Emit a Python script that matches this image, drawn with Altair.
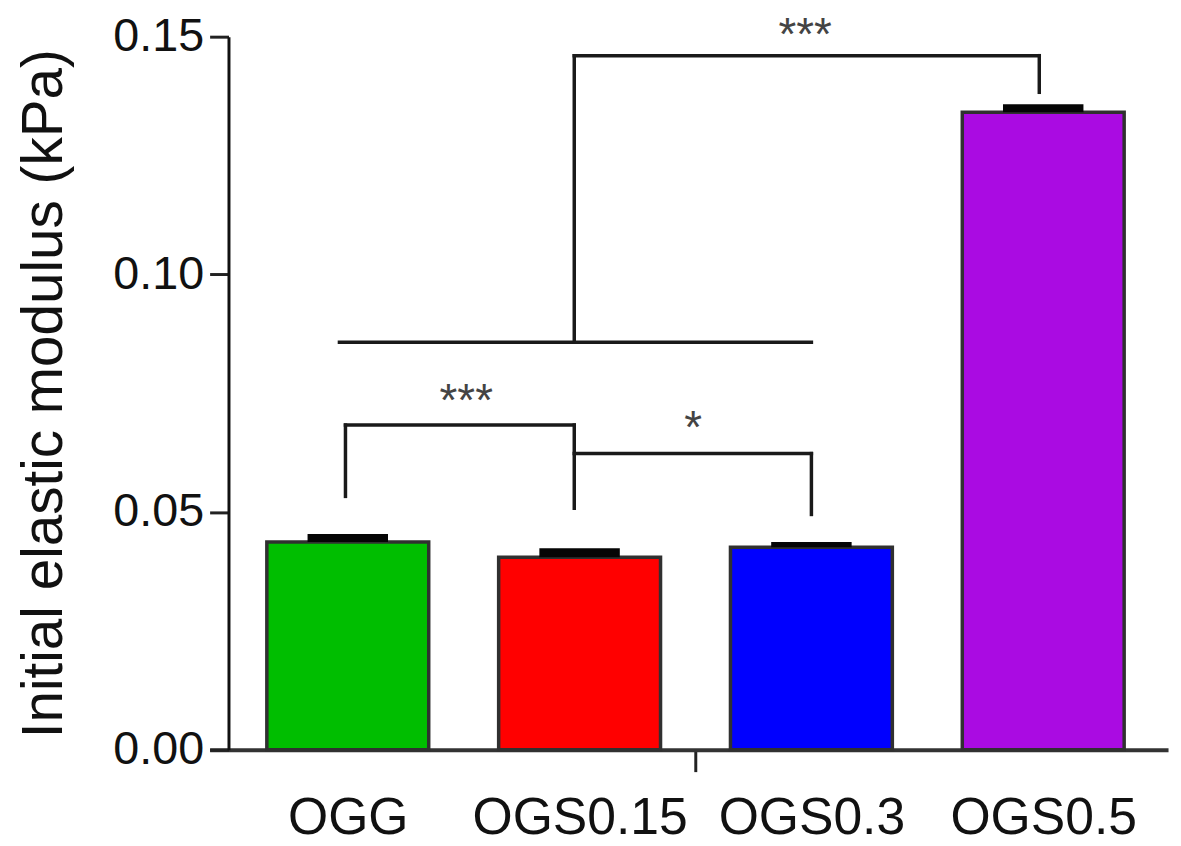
import json
import altair as alt
import pandas as pd

# ---- data ----
categories = ["OGG", "OGS0.15", "OGS0.3", "OGS0.5"]
positions = [1, 2, 3, 4]
means = [0.0437, 0.0405, 0.0426, 0.1341]
errors = [0.0017, 0.0019, 0.0011, 0.0017]
colors = ["#00BE00", "#FF0000", "#0000FF", "#AA0BE2"]

# significance bracket segments (data units)
seg_x = [0.99, 0.99, 1.977, 1.977, 3.0, 0.964, 1.977, 1.977, 3.983]
seg_x2 = [0.99, 1.977, 1.977, 3.0, 3.0, 3.0, 1.977, 3.983, 3.983]
seg_y = [0.0533, 0.0683, 0.0683, 0.0623, 0.0623, 0.0857, 0.0857, 0.1460, 0.1460]
seg_y2 = [0.0683, 0.0683, 0.0508, 0.0623, 0.0495, 0.0857, 0.1460, 0.1460, 0.1383]

star_labels = ["***", "*", "***"]
star_x = [1.511, 2.490, 2.973]
star_y = [0.0702, 0.0646, 0.1471]

x_domain = [0.4254, 4.517]
y_domain = [0.0, 0.15]
x_tick_values = [1, 2, 2.5, 3, 4]
y_tick_values = [0.0, 0.05, 0.10, 0.15]

bars_df = pd.DataFrame({
    "cat": categories,
    "pos": positions,
    "mean": means,
    "top": [m + e for m, e in zip(means, errors)],
})
seg_df = pd.DataFrame({"x": seg_x, "x2": seg_x2, "y": seg_y, "y2": seg_y2})
star_df = pd.DataFrame({"label": star_labels, "x": star_x, "y": star_y})

REGULAR = "Liberation Sans, Arial, sans-serif"

x_scale = alt.Scale(domain=x_domain, nice=False, zero=False)
y_scale = alt.Scale(domain=y_domain, nice=False, zero=False)

label_expr = json.dumps(categories) + "[datum.value - 1] || ''"

x_axis = alt.Axis(
    values=x_tick_values,
    labelExpr=label_expr,
    title=None,
    grid=False,
    domainColor="#333333",
    domainWidth=4,
    tickColor="#222222",
    tickWidth=3,
    tickSize=22,
    tickOpacity={"condition": {"test": "datum.value == 2.5", "value": 1}, "value": 0},
    labelFont=REGULAR,
    labelFontSize=52,
    labelColor="#111111",
    labelPadding=21,
    labelLimit=0,
    labelFlush=False,
    labelOverlap=False,
)

y_axis = alt.Axis(
    values=y_tick_values,
    format=".2f",
    title="Initial elastic modulus (kPa)",
    titleFont=REGULAR,
    titleFontSize=57,
    titleFontWeight="normal",
    titleColor="#111111",
    titlePadding=40,
    grid=False,
    offset=-19,
    domainColor="#111111",
    domainWidth=3,
    tickColor="#222222",
    tickWidth=3,
    tickSize=19,
    labelFont=REGULAR,
    labelFontSize=47,
    labelColor="#111111",
    labelPadding=6,
    labelLimit=0,
    labelFlush=False,
    labelOverlap=False,
)

bars = alt.Chart(bars_df).mark_bar(
    size=163, stroke="#303030", strokeWidth=3.5, orient="vertical"
).encode(
    x=alt.X("pos:Q", scale=x_scale, axis=x_axis),
    y=alt.Y("mean:Q", scale=y_scale, axis=y_axis, stack=None),
    color=alt.Color("cat:N", scale=alt.Scale(domain=categories, range=colors), legend=None),
)

err = alt.Chart(bars_df).mark_bar(size=81, color="#050505", orient="vertical").encode(
    x=alt.X("pos:Q", scale=x_scale),
    y=alt.Y("mean:Q", scale=y_scale, stack=None),
    y2="top:Q",
)

segs = alt.Chart(seg_df).mark_rule(color="#1a1a1a", strokeWidth=3.5, strokeCap="square").encode(
    x=alt.X("x:Q", scale=x_scale),
    x2="x2:Q",
    y=alt.Y("y:Q", scale=y_scale),
    y2="y2:Q",
)

stars = alt.Chart(star_df).mark_text(
    font=REGULAR, fontSize=46, color="#444444", baseline="alphabetic", align="center"
).encode(
    x=alt.X("x:Q", scale=x_scale),
    y=alt.Y("y:Q", scale=y_scale),
    text="label:N",
)

chart = alt.layer(bars, err, segs, stars).properties(
    width=965,
    height=718,
    autosize=alt.AutoSizeParams(type="none"),
    padding={"left": 203, "top": 26, "right": 5, "bottom": 92},
    background="white",
).configure_view(strokeWidth=0)

chart.save("out.html", embed_options={"renderer": "svg", "actions": False})
